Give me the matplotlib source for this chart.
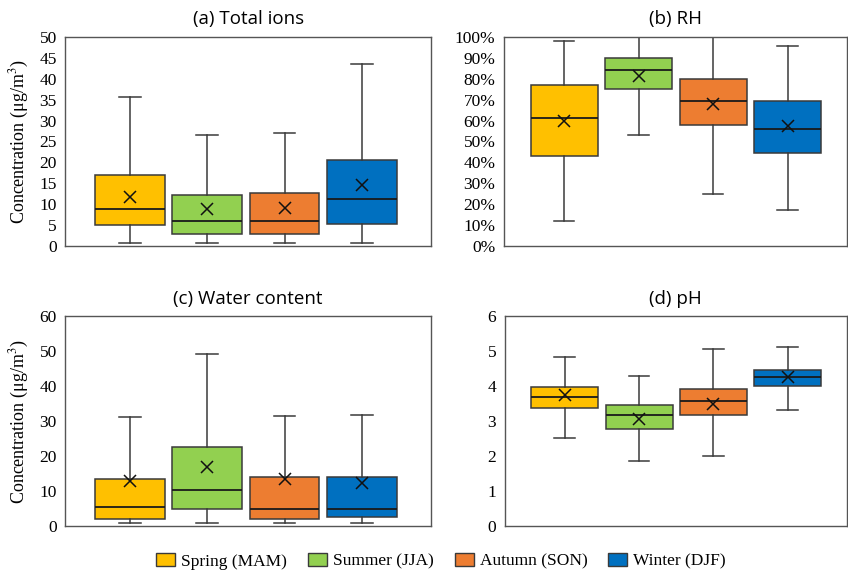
import matplotlib
matplotlib.use("Agg")
import matplotlib.pyplot as plt
from matplotlib.patches import Patch

plt.rcParams["mathtext.fontset"] = "stix"

# season order and fills
SEASONS = ["Spring (MAM)", "Summer (JJA)", "Autumn (SON)", "Winter (DJF)"]
COLORS = ["#FFC000", "#92D050", "#ED7D31", "#0070C0"]

# per panel: whisker low, Q1, median, Q3, whisker high, mean (one entry per season)
ions_wlo = [0.7, 0.7, 0.7, 0.7]
ions_q1 = [5.0, 2.8, 2.8, 5.2]
ions_med = [8.8, 6.0, 6.0, 11.2]
ions_q3 = [17.0, 12.3, 12.7, 20.5]
ions_whi = [35.6, 26.5, 26.9, 43.6]
ions_mean = [11.7, 8.8, 9.2, 14.6]

rh_wlo = [12.0, 53.0, 25.0, 17.3]
rh_q1 = [43.0, 75.0, 58.0, 44.5]
rh_med = [61.0, 84.0, 69.5, 56.0]
rh_q3 = [77.0, 90.0, 80.0, 69.3]
rh_whi = [98.0, 100.0, 100.0, 95.7]
rh_mean = [60.0, 81.5, 68.0, 57.5]

wc_wlo = [1.0, 1.0, 1.0, 1.0]
wc_q1 = [2.1, 4.8, 2.1, 2.5]
wc_med = [5.6, 10.2, 5.0, 5.0]
wc_q3 = [13.5, 22.5, 14.0, 14.0]
wc_whi = [31.2, 49.3, 31.5, 31.8]
wc_mean = [13.0, 17.0, 13.4, 12.2]

ph_wlo = [2.52, 1.85, 2.01, 3.33]
ph_q1 = [3.38, 2.77, 3.17, 4.02]
ph_med = [3.68, 3.17, 3.59, 4.25]
ph_q3 = [3.98, 3.46, 3.93, 4.45]
ph_whi = [4.83, 4.28, 5.05, 5.13]
ph_mean = [3.75, 3.07, 3.50, 4.25]

SERIF = "Liberation Serif"
SANS = "Open Sans"
EDGE = "#3a3a3a"


def stats(wlo, q1, med, q3, whi, mean):
    return [dict(whislo=a, q1=b, med=c, q3=d, whishi=e, mean=f, fliers=[])
            for a, b, c, d, e, f in zip(wlo, q1, med, q3, whi, mean)]


def panel(ax, st, title, ylim, yticks, xlim, ylabel=None, pct=False):
    bp = ax.bxp(st, positions=[1, 2, 3, 4], widths=0.9, capwidths=0.28,
                patch_artist=True, showmeans=True, showfliers=False,
                boxprops=dict(edgecolor=EDGE, linewidth=1.1),
                whiskerprops=dict(color=EDGE, linewidth=1.1),
                capprops=dict(color=EDGE, linewidth=1.1),
                medianprops=dict(color="#1a1a1a", linewidth=1.3),
                meanprops=dict(marker="x", markeredgecolor="#111111",
                               markersize=8, markeredgewidth=1.1))
    for box, c in zip(bp["boxes"], COLORS):
        box.set_facecolor(c)
    ax.set_xlim(*xlim)
    ax.set_ylim(*ylim)
    ax.set_yticks(yticks)
    if pct:
        ax.set_yticklabels([f"{t:.0f}%" for t in yticks])
    ax.set_xticks([])
    ax.tick_params(axis="y", length=0, pad=6, labelsize=12.5)
    for lab in ax.get_yticklabels():
        lab.set_fontfamily(SERIF)
    for s in ax.spines.values():
        s.set_color("#555555")
        s.set_linewidth(1.0)
    ax.set_title(title, fontfamily=SANS, fontsize=13.5, pad=9)
    if ylabel:
        ax.set_ylabel(ylabel, fontfamily=SERIF, fontsize=13, labelpad=6)


fig = plt.figure(figsize=(8.48, 5.75), dpi=100)
ax_a = fig.add_axes([0.0767, 0.572, 0.432, 0.364])
ax_b = fig.add_axes([0.594, 0.572, 0.405, 0.364])
ax_c = fig.add_axes([0.0767, 0.085, 0.432, 0.365])
ax_d = fig.add_axes([0.595, 0.085, 0.404, 0.365])

ylab = "Concentration (μg/m$^3$)"
panel(ax_a, stats(ions_wlo, ions_q1, ions_med, ions_q3, ions_whi, ions_mean),
      "(a) Total ions", (0, 50), list(range(0, 51, 5)), (0.16, 4.9), ylabel=ylab)
panel(ax_b, stats(rh_wlo, rh_q1, rh_med, rh_q3, rh_whi, rh_mean),
      "(b) RH", (0, 100), list(range(0, 101, 10)), (0.19, 4.8), pct=True)
panel(ax_c, stats(wc_wlo, wc_q1, wc_med, wc_q3, wc_whi, wc_mean),
      "(c) Water content", (0, 60), list(range(0, 61, 10)), (0.16, 4.9), ylabel=ylab)
panel(ax_d, stats(ph_wlo, ph_q1, ph_med, ph_q3, ph_whi, ph_mean),
      "(d) pH", (0, 6), list(range(0, 7)), (0.19, 4.8))

handles = [Patch(facecolor=c, edgecolor=EDGE, linewidth=1.0, label=s)
           for s, c in zip(SEASONS, COLORS)]
fig.legend(handles=handles, loc="center", bbox_to_anchor=(0.52, 0.024), ncol=4,
           frameon=False, prop=dict(family=SERIF, size=12.5),
           handlelength=1.1, handleheight=0.8, handletextpad=0.35, columnspacing=1.2)

fig.savefig("out.png", dpi=100)
